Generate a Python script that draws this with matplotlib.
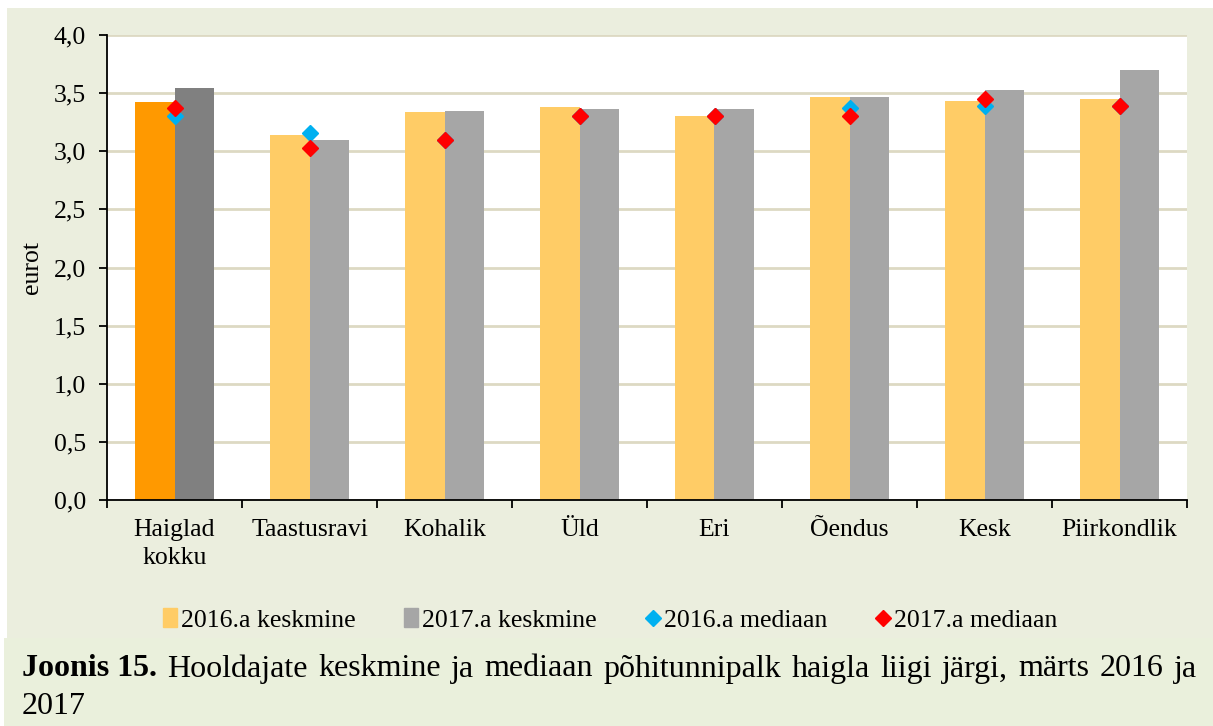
import numpy as np
import matplotlib
matplotlib.use("Agg")
import matplotlib.pyplot as plt
from matplotlib.patches import Rectangle
from matplotlib.lines import Line2D

categories = ["Haiglad\nkokku", "Taastusravi", "Kohalik", "Üld", "Eri", "Õendus", "Kesk", "Piirkondlik"]
mean_2016 = [3.42, 3.14, 3.34, 3.38, 3.30, 3.47, 3.43, 3.45]
mean_2017 = [3.54, 3.10, 3.35, 3.36, 3.36, 3.47, 3.53, 3.70]
median_2016 = [3.30, 3.16, 3.10, 3.30, 3.30, 3.37, 3.39, 3.39]
median_2017 = [3.37, 3.03, 3.10, 3.30, 3.30, 3.30, 3.45, 3.39]

plt.rcParams["font.family"] = ["Liberation Serif", "DejaVu Serif"]

W, H = 1213, 726
fig = plt.figure(figsize=(W / 100, H / 100), dpi=100, facecolor="white")

# taustakastid
fig.patches.append(Rectangle((7 / W, (H - 638) / H), (W - 7) / W, (638 - 8) / H,
                             transform=fig.transFigure, facecolor="#EBEEDE", edgecolor="none", zorder=-2))
fig.patches.append(Rectangle((4 / W, 0), (W - 4) / W, (H - 638) / H,
                             transform=fig.transFigure, facecolor="#EAF0DC", edgecolor="none", zorder=-2))

ax = fig.add_axes([107 / W, (H - 500) / H, (1187 - 107) / W, (500 - 35) / H], zorder=2)
ax.set_facecolor("white")

x = np.arange(len(categories))
w = 0.29
c16 = ["#FF9900"] + ["#FFCC66"] * (len(categories) - 1)
c17 = ["#808080"] + ["#A6A6A6"] * (len(categories) - 1)
ax.bar(x - w / 2, mean_2016, width=w, color=c16, zorder=2)
ax.bar(x + w / 2, mean_2017, width=w, color=c17, zorder=2)
ax.plot(x, median_2016, linestyle="none", marker="D", markersize=8.5, color="#00B0F0", zorder=3)
ax.plot(x, median_2017, linestyle="none", marker="D", markersize=8.5, color="#FF0000", zorder=4)

fs = 18.5
ax.set_xlim(-0.5, len(categories) - 0.5)
ax.set_ylim(0, 4.0)
ax.set_yticks(np.arange(0, 4.01, 0.5))
ax.set_yticklabels([f"{v:.1f}".replace(".", ",") for v in np.arange(0, 4.01, 0.5)], fontsize=fs)
ax.yaxis.grid(True, color="#DDD9C3", linewidth=2, zorder=1)
ax.set_axisbelow(True)

ax.set_xticks(x)
ax.set_xticklabels(categories, fontsize=fs, linespacing=1.35)
ax.tick_params(axis="x", which="major", length=0, pad=14)
ax.set_xticks(np.arange(-0.5, len(categories)), minor=True)
ax.tick_params(axis="x", which="minor", length=6, width=1.3)
ax.tick_params(axis="y", length=6, width=1.3, pad=9)

for s in ["top", "right"]:
    ax.spines[s].set_visible(False)
for s in ["left", "bottom"]:
    ax.spines[s].set_linewidth(1.3)

ax.set_ylabel("eurot", fontsize=fs, labelpad=8)

handles = [
    Rectangle((0, 0), 1, 1, color="#FFCC66"),
    Rectangle((0, 0), 1, 1, color="#A6A6A6"),
    Line2D([], [], linestyle="none", marker="D", markersize=8, color="#00B0F0"),
    Line2D([], [], linestyle="none", marker="D", markersize=8, color="#FF0000"),
]
labels = ["2016.a keskmine", "2017.a keskmine", "2016.a mediaan", "2017.a mediaan"]
fig.legend(handles, labels, loc="center", bbox_to_anchor=(610 / W, (H - 620) / H), ncol=4,
           frameon=False, fontsize=fs, handlelength=0.55, handleheight=0.75,
           handletextpad=0.15, columnspacing=1.9)

# allkiri, esimene rida rööpjoondatud
cap_fs = 23
line1 = "Hooldajate keskmine ja mediaan põhitunnipalk haigla liigi järgi, märts 2016 ja".split()
y1 = (H - 669) / H
y2 = (H - 706) / H
renderer = fig.canvas.get_renderer()
words = [fig.text(22 / W, y1, "Joonis 15.", fontsize=cap_fs, fontweight="bold", va="center")]
words += [fig.text(0, y1, wd, fontsize=cap_fs, va="center") for wd in line1]
widths = [t.get_window_extent(renderer).width for t in words]
gap = (1197 - 22 - sum(widths)) / (len(words) - 1)
pos = 22
for t, wd in zip(words, widths):
    t.set_x(pos / W)
    pos += wd + gap
fig.text(22 / W, y2, "2017", fontsize=cap_fs, va="center")

fig.savefig("out.png", dpi=100, facecolor=fig.get_facecolor())
